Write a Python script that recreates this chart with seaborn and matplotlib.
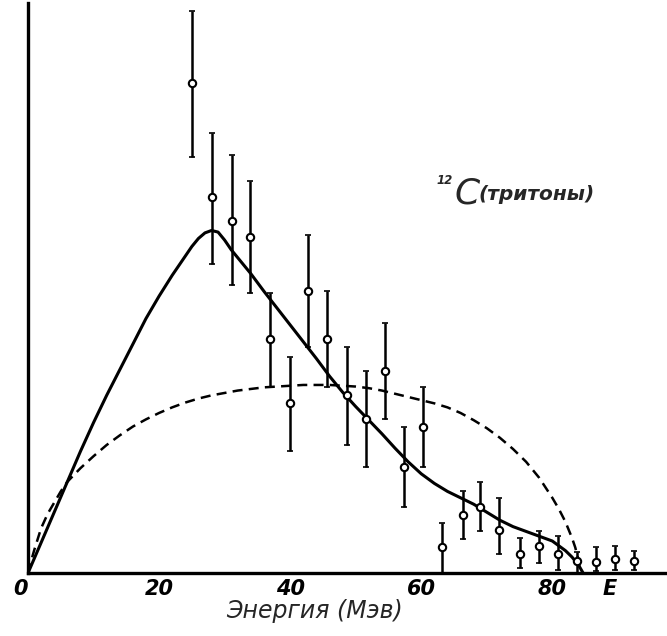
import numpy as np
import pandas as pd
import matplotlib
matplotlib.use("Agg")
import matplotlib.pyplot as plt
import seaborn as sns

# точки эксперимента: энергия (Мэв), выход и границы ошибок (отн. ед.)
energy = [25.0, 28.1, 31.1, 33.9, 36.9, 40.0, 42.7, 45.6, 48.7, 51.6, 54.5, 57.4,
          60.3, 63.2, 66.3, 69.0, 71.9, 75.0, 77.9, 80.8, 83.8, 86.6, 89.6, 92.4]
yield_ = [3.06, 2.35, 2.20, 2.10, 1.46, 1.06, 1.76, 1.46, 1.11, 0.96, 1.26, 0.66,
          0.91, 0.16, 0.36, 0.41, 0.27, 0.12, 0.17, 0.12, 0.075, 0.07, 0.09, 0.075]
err_top = [3.51, 2.75, 2.61, 2.45, 1.75, 1.35, 2.11, 1.76, 1.41, 1.26, 1.56, 0.91,
           1.16, 0.31, 0.51, 0.57, 0.47, 0.22, 0.26, 0.23, 0.13, 0.16, 0.17, 0.14]
err_bot = [2.60, 1.93, 1.80, 1.75, 1.16, 0.76, 1.41, 1.16, 0.80, 0.66, 0.96, 0.41,
           0.66, 0.0, 0.21, 0.26, 0.12, 0.03, 0.06, 0.02, 0.0, 0.01, 0.02, 0.02]

# сплошная кривая (расчёт)
calc_e = [0, 2, 4, 6, 8, 10, 12, 14, 16, 18, 20, 22, 24, 25, 26, 27, 28, 29, 30,
          31, 32, 34, 36, 38, 40, 42, 44, 46, 48, 50, 52, 54, 56, 58, 60, 62, 64,
          66, 68, 70, 72, 74, 76, 78, 80, 82, 83, 84, 84.7]
calc_y = [0, 0.19, 0.38, 0.57, 0.76, 0.94, 1.11, 1.27, 1.43, 1.59, 1.73, 1.86,
          1.98, 2.04, 2.09, 2.125, 2.14, 2.13, 2.08, 2.02, 1.97, 1.87, 1.76, 1.655,
          1.55, 1.445, 1.34, 1.23, 1.13, 1.04, 0.955, 0.87, 0.78, 0.695, 0.62, 0.56,
          0.51, 0.47, 0.43, 0.38, 0.33, 0.29, 0.26, 0.23, 0.20, 0.14, 0.10, 0.05, 0.0]

# пунктирная кривая
dash_e = [0, 0.5, 1, 2, 3, 4, 5, 6, 8, 10, 12, 14, 16, 18, 20, 22, 24, 26, 28,
          30, 32, 34, 36, 38, 40, 42, 44, 46, 48, 50, 52, 54, 56, 58, 60, 62, 64,
          66, 68, 70, 72, 74, 76, 78, 80, 81, 82, 83, 83.5, 84, 84.3]
dash_y = [0, 0.08, 0.15, 0.28, 0.37, 0.44, 0.51, 0.57, 0.655, 0.73, 0.80, 0.86,
          0.915, 0.96, 1.00, 1.035, 1.065, 1.09, 1.11, 1.125, 1.14, 1.15, 1.16, 1.165,
          1.17, 1.175, 1.175, 1.175, 1.17, 1.165, 1.155, 1.14, 1.12, 1.10, 1.08,
          1.06, 1.035, 1.0, 0.955, 0.905, 0.845, 0.775, 0.695, 0.595, 0.47, 0.40,
          0.32, 0.22, 0.16, 0.08, 0.0]

x_ticks = [0, 10, 20, 30, 40, 50, 60, 70, 80, 88.8]
x_labels = ["0", "", "20", "", "40", "", "60", "", "80", "E"]

sns.set_theme(style="white")
plt.rcParams['font.family'] = ['DejaVu Sans']

fig = plt.figure(figsize=(6.67, 6.36), dpi=100)
ax = fig.add_axes([0.042, 0.099, 0.958, 0.896])

df_pts = pd.DataFrame({"E": energy, "Y": yield_})
lo = np.array(yield_) - np.array(err_bot)
hi = np.array(err_top) - np.array(yield_)

ax.errorbar(energy, yield_, yerr=[lo, hi], fmt="none", ecolor="black",
            elinewidth=1.8, capsize=2, capthick=1.2, zorder=3)

sns.lineplot(x=calc_e, y=calc_y, ax=ax, color="black", linewidth=2.2, sort=False, zorder=2)
sns.lineplot(x=dash_e, y=dash_y, ax=ax, color="black", linewidth=1.8, sort=False,
             linestyle=(0, (4, 2.5)), zorder=2)
sns.scatterplot(data=df_pts, x="E", y="Y", ax=ax, marker="o", s=28,
                facecolor="white", edgecolor="black", linewidth=1.5, zorder=4)

ax.set_xlim(0, 97.5)
ax.set_ylim(0, 3.56)
sns.despine(ax=ax)
for s in ["left", "bottom"]:
    ax.spines[s].set_linewidth(2.4)
    ax.spines[s].set_color("black")

ax.set_xticks(x_ticks)
ax.set_xticklabels(x_labels, fontsize=15, fontstyle="italic", fontweight="bold")
ax.get_xticklabels()[0].set_horizontalalignment("right")
ax.set_yticks([1, 2, 3])
ax.set_yticklabels([])
ax.tick_params(axis="x", direction="in", length=6, width=1.8, pad=4, colors="black")
ax.tick_params(axis="y", direction="in", length=6, width=1.8, colors="black")
ax.xaxis.get_major_ticks()[-1].tick1line.set_visible(False)
ax.set_ylabel("")
ax.set_xlabel("Энергия (Мэв)", fontsize=17, fontstyle="italic", labelpad=2)
ax.xaxis.set_label_coords(0.448, -0.045)

ax.text(65.0, 2.31, "C", fontsize=26, fontstyle="italic", ha="left", va="baseline")
ax.text(64.8, 2.43, "12", fontsize=8.5, fontstyle="italic", fontweight="bold",
        ha="right", va="baseline")
ax.text(68.8, 2.33, "(тритоны)", fontsize=14.5, fontstyle="italic", fontweight="bold",
        ha="left", va="baseline")

fig.savefig("out.png", dpi=100)
plt.close()
